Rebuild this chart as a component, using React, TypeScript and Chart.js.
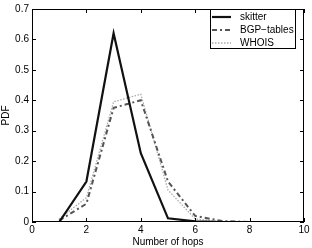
import React, { useEffect, useRef } from "react";
import { Chart, registerables } from "chart.js";

Chart.register(...registerables);

const hops = [1, 2, 3, 4, 5, 6, 7, 8, 9, 10];
const skitter = [0, 0.133, 0.62, 0.226, 0.012, 0.002, 0, 0, 0, 0];
const bgpTables = [0.005, 0.06, 0.375, 0.4, 0.133, 0.02, 0.003, 0, 0, 0];
const whois = [0.01, 0.08, 0.395, 0.42, 0.105, 0.01, 0.001, 0, 0, 0];
const xTicks = [0, 2, 4, 6, 8, 10];
const yTicks = [0, 0.1, 0.2, 0.3, 0.4, 0.5, 0.6, 0.7];
const seriesNames = ["skitter", "BGP\u2212tables", "WHOIS"];

const FONT = "'Liberation Sans', Arial, Helvetica, sans-serif";

const frameAndLegend = {
  id: "frameAndLegend",
  afterDatasetsDraw(chart: any) {
    const { ctx, chartArea } = chart;
    const { left, right, top, bottom } = chartArea;
    const xs = chart.scales.x;
    const ys = chart.scales.y;
    ctx.save();
    ctx.strokeStyle = "#000";
    ctx.lineWidth = 1;
    ctx.setLineDash([]);
    ctx.strokeRect(left + 0.5, top + 0.5, right - left - 1, bottom - top - 1);
    const tl = 4;
    ctx.beginPath();
    xTicks.forEach((v) => {
      const px = Math.round(xs.getPixelForValue(v)) + 0.5;
      ctx.moveTo(px, bottom);
      ctx.lineTo(px, bottom - tl);
      ctx.moveTo(px, top);
      ctx.lineTo(px, top + tl);
    });
    yTicks.forEach((v) => {
      const py = Math.round(ys.getPixelForValue(v)) + 0.5;
      ctx.moveTo(left, py);
      ctx.lineTo(left + tl, py);
      ctx.moveTo(right, py);
      ctx.lineTo(right - tl, py);
    });
    ctx.stroke();

    // legend
    const lx = 210, ly = top, lw = right - 9 - lx, lh = 39;
    ctx.fillStyle = "#fff";
    ctx.fillRect(lx, ly, lw, lh);
    ctx.strokeRect(lx + 0.5, ly + 0.5, lw, lh);
    const dsets = chart.data.datasets;
    ctx.font = `10px ${FONT}`;
    ctx.textBaseline = "middle";
    ctx.textAlign = "left";
    dsets.forEach((d: any, i: number) => {
      const yy = ly + 8 + i * 13;
      ctx.beginPath();
      ctx.strokeStyle = d.borderColor;
      ctx.lineWidth = d.borderWidth;
      ctx.setLineDash(d.borderDash || []);
      ctx.moveTo(lx + 2, yy);
      ctx.lineTo(lx + 21, yy);
      ctx.stroke();
      ctx.fillStyle = "#000";
      ctx.fillText(seriesNames[i], lx + 30, yy);
    });
    ctx.restore();
  },
};

export default function App() {
  const ref = useRef<HTMLCanvasElement>(null);
  useEffect(() => {
    document.body.style.margin = "0";
    const mk = (vals: number[]) => hops.map((h, i) => ({ x: h, y: vals[i] }));
    const chart = new Chart(ref.current!, {
      type: "line",
      data: {
        datasets: [
          {
            label: seriesNames[0],
            data: mk(skitter),
            borderColor: "#111",
            borderWidth: 2.2,
            pointRadius: 0,
            tension: 0,
          },
          {
            label: seriesNames[1],
            data: mk(bgpTables),
            borderColor: "#555",
            borderWidth: 2,
            borderDash: [5, 3, 2, 3],
            pointRadius: 0,
            tension: 0,
          },
          {
            label: seriesNames[2],
            data: mk(whois),
            borderColor: "#aaa",
            borderWidth: 1.3,
            borderDash: [1.5, 1.5],
            pointRadius: 0,
            tension: 0,
          },
        ],
      },
      options: {
        animation: false,
        responsive: false,
        maintainAspectRatio: false,
        layout: { padding: { top: 9, right: 8, left: 0, bottom: 0 } },
        plugins: { legend: { display: false }, tooltip: { enabled: false } },
        scales: {
          x: {
            type: "linear",
            min: 0,
            max: 10,
            afterBuildTicks: (s: any) => {
              s.ticks = xTicks.map((v) => ({ value: v }));
            },
            afterFit: (s: any) => {
              s.height = 26;
            },
            grid: { display: false, drawTicks: false },
            border: { display: false },
            ticks: { color: "#000", font: { family: FONT, size: 10 }, padding: 2, maxRotation: 0 },
            title: {
              display: true,
              text: "Number of hops",
              color: "#000",
              font: { family: FONT, size: 10 },
              padding: { top: 0, bottom: 0 },
            },
          },
          y: {
            type: "linear",
            min: 0,
            max: 0.7,
            afterBuildTicks: (s: any) => {
              s.ticks = yTicks.map((v) => ({ value: v }));
            },
            afterFit: (s: any) => {
              s.width = 32;
            },
            grid: { display: false, drawTicks: false },
            border: { display: false },
            ticks: {
              color: "#000",
              font: { family: FONT, size: 10 },
              padding: 3,
              callback: (v: any) => (v === 0 ? "0" : Number(v).toFixed(1)),
            },
            title: {
              display: true,
              text: "PDF",
              color: "#000",
              font: { family: FONT, size: 10 },
              padding: { top: 0, bottom: 0 },
            },
          },
        },
      },
      plugins: [frameAndLegend],
    } as any);
    return () => chart.destroy();
  }, []);
  return (
    <div style={{ width: 312, height: 248 }}>
      <canvas ref={ref} width={312} height={248} style={{ display: "block" }} />
    </div>
  );
}
